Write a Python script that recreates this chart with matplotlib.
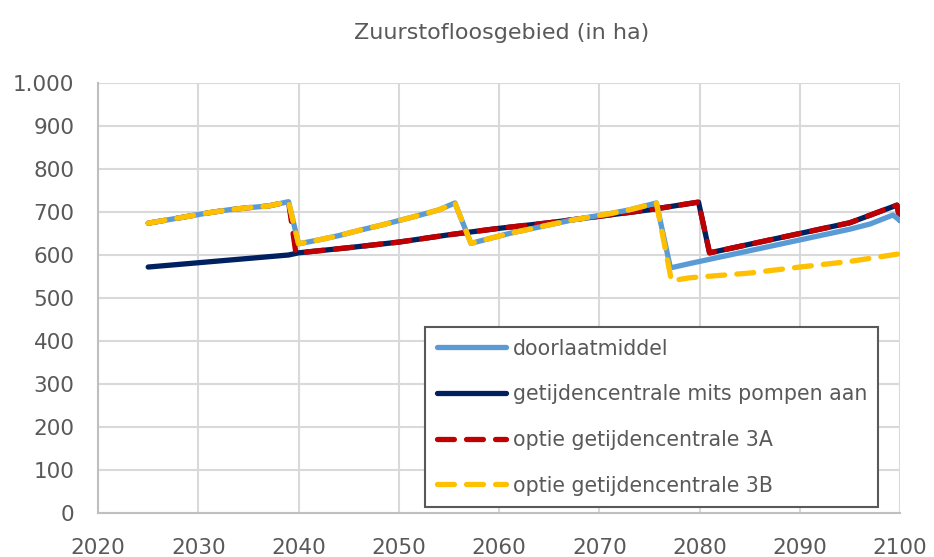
"""Zuurstofloosgebied (in ha) — vier scenario's, 2025-2100"""

import matplotlib
matplotlib.use("Agg")
import matplotlib.pyplot as plt

# doorlaatmiddel
jaar_doorlaat = [2025, 2027, 2029, 2031, 2033, 2035, 2037, 2039, 2040, 2042, 2044,
                 2046, 2048, 2050, 2052, 2054, 2055.6, 2057.2, 2059, 2061, 2063,
                 2065, 2067, 2069, 2071, 2073, 2075.7, 2077.1, 2079, 2081, 2083,
                 2085, 2087, 2089, 2091, 2093, 2095, 2097, 2099.3, 2100]
ha_doorlaat = [674, 682, 690, 698, 705, 710, 714, 724, 626, 635, 645,
               657, 668, 680, 692, 705, 721, 627, 638, 650, 660,
               670, 680, 688, 696, 705, 721, 570, 580, 590, 600,
               610, 620, 630, 640, 650, 660, 672, 693, 680]

# getijdencentrale mits pompen aan
jaar_pompen = [2025, 2030, 2035, 2039, 2040, 2045, 2050, 2055, 2060, 2065, 2070,
               2075, 2079.9, 2081, 2085, 2090, 2095, 2099.7, 2100]
ha_pompen = [572, 582, 592, 600, 605, 617, 630, 647, 662, 675, 690,
             705, 723, 605, 625, 650, 675, 716, 680]

# optie getijdencentrale 3A
jaar_3a = [2025, 2027, 2029, 2031, 2033, 2035, 2037, 2039, 2039.7, 2040, 2045,
           2050, 2055, 2060, 2065, 2070, 2075, 2079.9, 2081, 2085, 2090, 2095,
           2099.7, 2100]
ha_3a = [674, 682, 690, 698, 705, 710, 714, 724, 610, 605, 617,
         630, 647, 662, 675, 690, 705, 723, 605, 625, 650, 675,
         716, 680]

# optie getijdencentrale 3B
jaar_3b = [2025, 2027, 2029, 2031, 2033, 2035, 2037, 2039, 2040, 2042, 2044,
           2046, 2048, 2050, 2052, 2054, 2055.6, 2057.2, 2059, 2061, 2063,
           2065, 2067, 2069, 2071, 2073, 2075.7, 2077.2, 2079, 2085, 2090,
           2095, 2100]
ha_3b = [674, 682, 690, 698, 705, 710, 714, 724, 626, 635, 645,
         657, 668, 680, 692, 705, 721, 627, 638, 650, 660,
         670, 680, 688, 696, 705, 721, 540, 547, 558, 572,
         585, 603]

x_ticks = list(range(2020, 2101, 10))
y_ticks = list(range(0, 1001, 100))
y_labels = ["0", "100", "200", "300", "400", "500", "600", "700", "800", "900", "1.000"]

tekst = "#595959"
plt.rcParams["font.family"] = ["DejaVu Sans"]

fig = plt.figure(figsize=(9.34, 5.57), dpi=100)
ax = fig.add_axes([0.105, 0.079, 0.8586, 0.772])

lw = 3.8
dash = (3.2, 2.3)
ax.plot(jaar_pompen, ha_pompen, color="#002060", lw=lw, zorder=3,
        solid_capstyle="round", solid_joinstyle="round",
        label="getijdencentrale mits pompen aan")
ax.plot(jaar_3a, ha_3a, color="#C00000", lw=lw, zorder=4, dashes=dash,
        dash_capstyle="round", dash_joinstyle="round",
        label="optie getijdencentrale 3A")
ax.plot(jaar_doorlaat, ha_doorlaat, color="#5B9BD5", lw=lw, zorder=5,
        solid_capstyle="round", solid_joinstyle="round", label="doorlaatmiddel")
ax.plot(jaar_3b, ha_3b, color="#FFC000", lw=lw, zorder=6, dashes=dash,
        dash_capstyle="round", dash_joinstyle="round",
        label="optie getijdencentrale 3B")

ax.set_xlim(2020, 2100)
ax.set_ylim(0, 1000)
ax.set_xticks(x_ticks)
ax.set_yticks(y_ticks)
ax.set_yticklabels(y_labels)
ax.tick_params(axis="both", length=0, labelsize=15.5, labelcolor=tekst)
ax.tick_params(axis="x", pad=18)
ax.tick_params(axis="y", pad=17)
ax.grid(True, color="#D9D9D9", lw=1.5, zorder=0)
for s in ["top", "right"]:
    ax.spines[s].set_visible(False)
for s in ["left", "bottom"]:
    ax.spines[s].set_color("#BFBFBF")
    ax.spines[s].set_linewidth(1.5)

fig.text(0.537, 0.94, "Zuurstofloosgebied (in ha)", ha="center", va="center",
         fontsize=16, color=tekst)

handles, labels = ax.get_legend_handles_labels()
order = [2, 0, 1, 3]
leg = ax.legend([handles[i] for i in order], [labels[i] for i in order],
                loc="lower left", bbox_to_anchor=(0.408, 0.014), fontsize=14.8,
                handlelength=3.4, labelspacing=1.25, handletextpad=0.3,
                borderpad=0.55, borderaxespad=0, fancybox=False, framealpha=1,
                edgecolor="#595959", labelcolor=tekst)
leg.get_frame().set_linewidth(1.5)
leg.set_zorder(10)

fig.savefig("out.png", dpi=100)
